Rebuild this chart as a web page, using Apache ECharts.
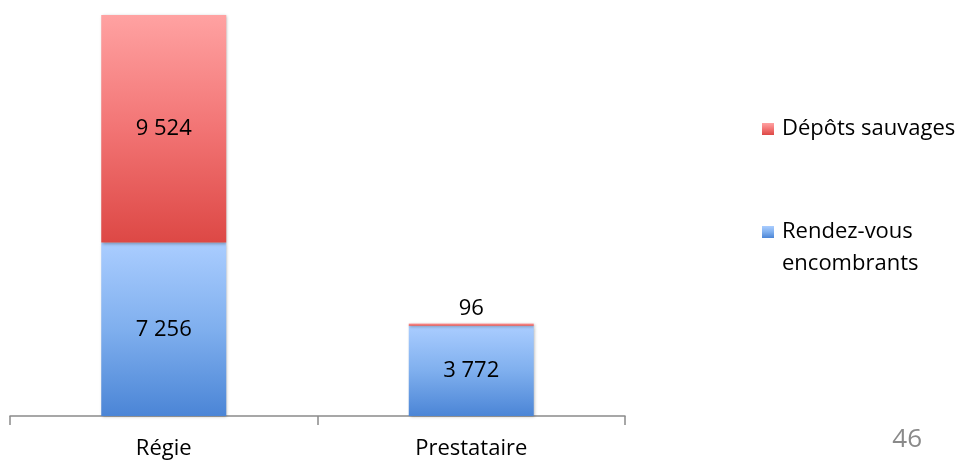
<!DOCTYPE html>
<html>
<head>
<meta charset="utf-8">
<script src="https://cdn.jsdelivr.net/npm/echarts@6/dist/echarts.min.js"></script>
<style>html,body{margin:0;padding:0;background:#fff}#c{width:967px;height:463px}</style>
</head>
<body>
<div id="c"></div>
<script>
const categories = ['Régie', 'Prestataire'];
const seriesNames = ['Rendez-vous encombrants', 'Dépôts sauvages'];
const rendezVous = [7256, 3772];
const depots = [9524, 96];
const pageNumber = '46';

const FONT = '"Open Sans", Lato, sans-serif';
const fmt = v => String(v).replace(/\B(?=(\d{3})+(?!\d))/g, ' ');
const totals = categories.map((c, i) => rendezVous[i] + depots[i]);
const yMax = Math.max(...totals);

const blueGrad = new echarts.graphic.LinearGradient(0, 0, 0, 1, [
  {offset: 0, color: '#AACDFF'}, {offset: 0.5, color: '#7FAFEE'}, {offset: 1, color: '#4B85D6'}
]);
const redGrad = new echarts.graphic.LinearGradient(0, 0, 0, 1, [
  {offset: 0, color: '#FFA2A2'}, {offset: 0.5, color: '#F27474'}, {offset: 1, color: '#DD4845'}
]);

const labelBase = {show: true, color: '#000', fontFamily: FONT, fontSize: 22, formatter: p => fmt(p.value)};
const shadow = {shadowColor: 'rgba(0,0,0,0.3)', shadowBlur: 3, shadowOffsetX: 1, shadowOffsetY: 1};

const chart = echarts.init(document.getElementById('c'), null, {renderer: 'canvas'});
chart.setOption({
  animation: false,
  backgroundColor: '#fff',
  grid: {left: 10, right: 342, top: 15, bottom: 47},
  xAxis: {
    type: 'category', data: categories,
    axisLine: {show: true, lineStyle: {color: '#8a8a8a', width: 1.5}},
    axisTick: {show: true, interval: 0, alignWithLabel: false, length: 9, lineStyle: {color: '#8a8a8a', width: 1.5}},
    axisLabel: {color: '#000', fontFamily: FONT, fontSize: 22, margin: 22}
  },
  yAxis: {type: 'value', min: 0, max: yMax, show: false, splitLine: {show: false}},
  legend: {
    orient: 'vertical', left: 762, top: 113, itemGap: 39, padding: 0,
    icon: 'rect', itemWidth: 12, itemHeight: 12,
    textStyle: {color: '#000', fontFamily: FONT, fontSize: 22, lineHeight: 32, padding: [0, 0, 0, 3]},
    formatter: n => n === seriesNames[0] ? '\nRendez-vous\nencombrants' : n,
    data: [seriesNames[1], seriesNames[0]]
  },
  series: [
    {
      name: seriesNames[0], type: 'bar', stack: 't', barWidth: 125,
      itemStyle: Object.assign({color: blueGrad}, shadow),
      label: Object.assign({position: 'inside'}, labelBase),
      data: rendezVous
    },
    {
      name: seriesNames[1], type: 'bar', stack: 't', barWidth: 125,
      itemStyle: Object.assign({color: redGrad}, shadow),
      label: Object.assign({position: 'inside'}, labelBase),
      data: depots.map((v, i) => v / yMax < 0.05
        ? {value: v, label: {position: 'top', distance: 4}}
        : v)
    }
  ],
  graphic: [{
    type: 'text', right: 45, top: 427,
    style: {text: pageNumber, fill: '#8a8a8a', font: '26px ' + FONT}
  }]
});
</script>
</body>
</html>
